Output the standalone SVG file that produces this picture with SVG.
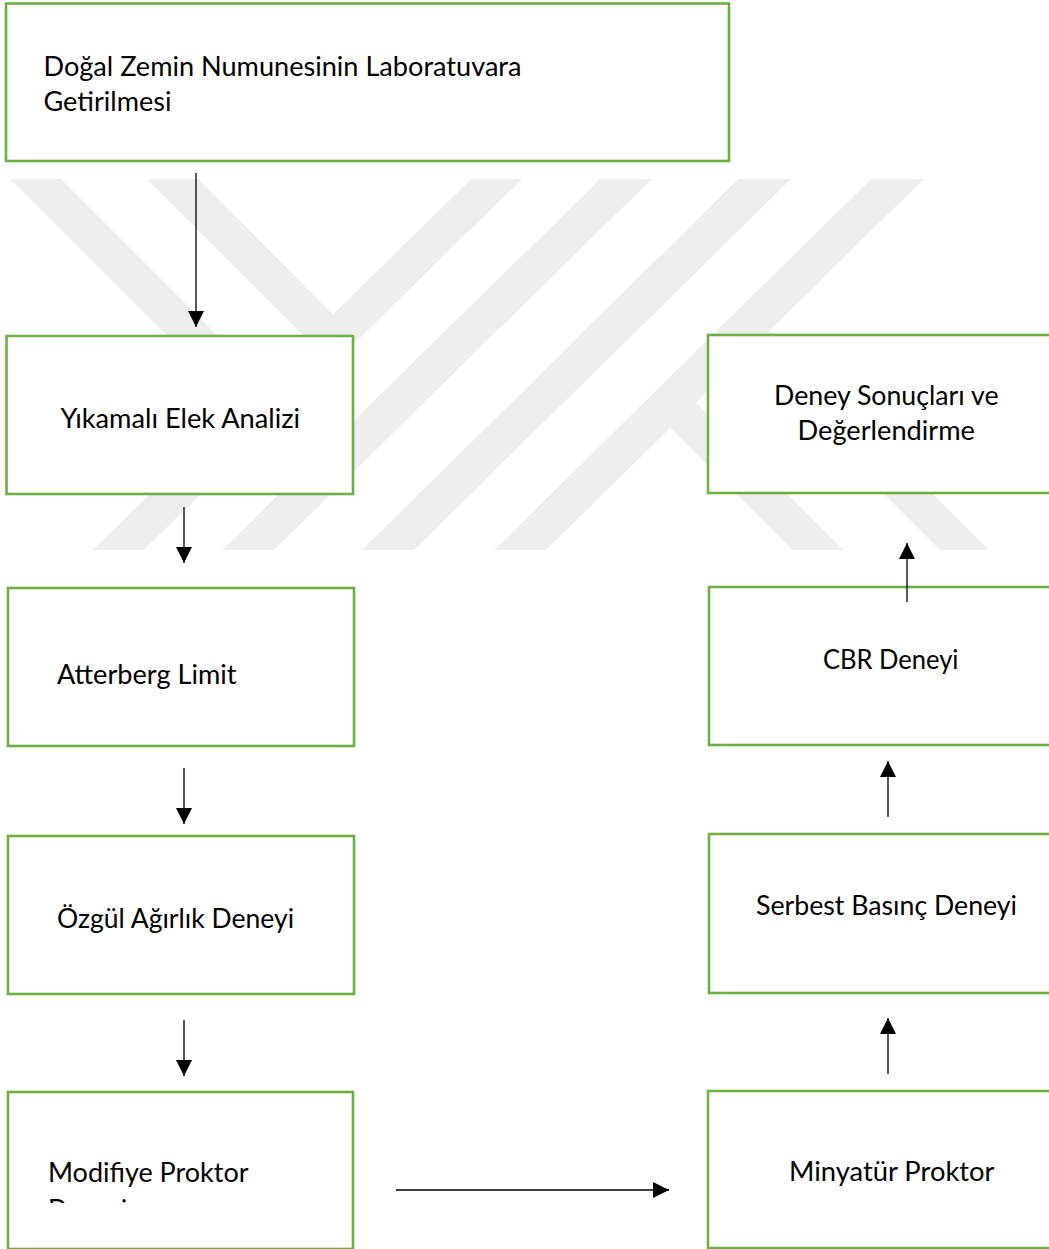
<svg xmlns="http://www.w3.org/2000/svg" width="1049" height="1249" viewBox="0 0 1049 1249">
  <style>
    .wm { fill: #eeeeee; }
    .box { fill: #ffffff; stroke: #70ad47; stroke-width: 2.6; }
    .lbl { font-family: Lato, "Open Sans", "Liberation Sans", sans-serif; font-size: 26px; fill: #000000; }
    .conn { stroke: #000000; stroke-width: 1.3; fill: none; marker-end: url(#ah); }
  </style>
  <defs>
    <marker id="ah" markerUnits="userSpaceOnUse" markerWidth="16" markerHeight="16" viewBox="0 0 16 16" refX="16" refY="8" orient="auto">
      <path d="M0,0 L16,8 L0,16 Z" fill="#000000"/>
    </marker>
    <clipPath id="clipMod">
      <rect x="0" y="1150" width="360" height="53"/>
    </clipPath>
  </defs>
  <rect x="0" y="0" width="1049" height="1249" fill="#ffffff"/>

  <g id="watermark">
    <polygon class="wm" points="10,179 61,179 351,469 300,469"/>
    <polygon class="wm" points="147,179 199,179 358,340 308,340"/>
    <polygon class="wm" points="471,179 522,179 144,550 93,550"/>
    <polygon class="wm" points="600,179 652,179 274,550 222,550"/>
    <polygon class="wm" points="738,179 791,179 414,550 362,550"/>
    <polygon class="wm" points="871,179 924,179 546,550 494,550"/>
    <polygon class="wm" points="669,427 696,403 843,550 792,550"/>
    <polygon class="wm" points="745,355 770,331 989,550 940,550"/>
  </g>

  <g id="node-dogal">
    <rect class="box" x="6" y="3.5" width="723" height="157.5"/>
    <text class="lbl" x="43.5" y="76" textLength="478" lengthAdjust="spacingAndGlyphs">Doğal Zemin Numunesinin Laboratuvara</text>
    <text class="lbl" x="43.5" y="111" textLength="128" lengthAdjust="spacingAndGlyphs">Getirilmesi</text>
  </g>

  <g id="node-yikamali">
    <rect class="box" x="6.5" y="336" width="346.5" height="158"/>
    <text class="lbl" x="60.5" y="428" textLength="239.5" lengthAdjust="spacingAndGlyphs">Yıkamalı Elek Analizi</text>
  </g>

  <g id="node-atterberg">
    <rect class="box" x="8" y="588" width="346" height="158"/>
    <text class="lbl" x="57" y="684" textLength="179.5" lengthAdjust="spacingAndGlyphs">Atterberg Limit</text>
  </g>

  <g id="node-ozgul">
    <rect class="box" x="8" y="836" width="346" height="158"/>
    <text class="lbl" x="57" y="927.5" textLength="237" lengthAdjust="spacingAndGlyphs">Özgül Ağırlık Deneyi</text>
  </g>

  <g id="node-modifiye">
    <rect class="box" x="8" y="1092" width="345" height="157"/>
    <text class="lbl" x="48" y="1181.5" textLength="200.5" lengthAdjust="spacingAndGlyphs">Modifiye Proktor</text>
    <text class="lbl" x="48" y="1219" textLength="79" lengthAdjust="spacingAndGlyphs" clip-path="url(#clipMod)">Deneyi</text>
  </g>

  <g id="node-deney">
    <rect class="box" x="708" y="335" width="360" height="158"/>
    <text class="lbl" x="774" y="405" textLength="224.5" lengthAdjust="spacingAndGlyphs">Deney Sonuçları ve</text>
    <text class="lbl" x="797.5" y="440" textLength="177.5" lengthAdjust="spacingAndGlyphs">Değerlendirme</text>
  </g>

  <g id="node-cbr">
    <rect class="box" x="709" y="587" width="360" height="158"/>
    <text class="lbl" x="823" y="669" textLength="135.5" lengthAdjust="spacingAndGlyphs">CBR Deneyi</text>
  </g>

  <g id="node-serbest">
    <rect class="box" x="709" y="834" width="360" height="159"/>
    <text class="lbl" x="756" y="915" textLength="261" lengthAdjust="spacingAndGlyphs">Serbest Basınç Deneyi</text>
  </g>

  <g id="node-minyatur">
    <rect class="box" x="708" y="1091" width="360" height="157"/>
    <text class="lbl" x="789" y="1180.5" textLength="205.5" lengthAdjust="spacingAndGlyphs">Minyatür Proktor</text>
  </g>

  <g id="connectors">
    <line class="conn" x1="196" y1="173" x2="196" y2="327"/>
    <line class="conn" x1="184" y1="507" x2="184" y2="563"/>
    <line class="conn" x1="184" y1="768" x2="184" y2="824"/>
    <line class="conn" x1="184" y1="1020" x2="184" y2="1076"/>
    <line class="conn" x1="396" y1="1190" x2="669" y2="1190"/>
    <line class="conn" x1="888" y1="1074" x2="888" y2="1018"/>
    <line class="conn" x1="888" y1="817" x2="888" y2="761"/>
    <line class="conn" x1="907" y1="602" x2="907" y2="543"/>
  </g>
</svg>
